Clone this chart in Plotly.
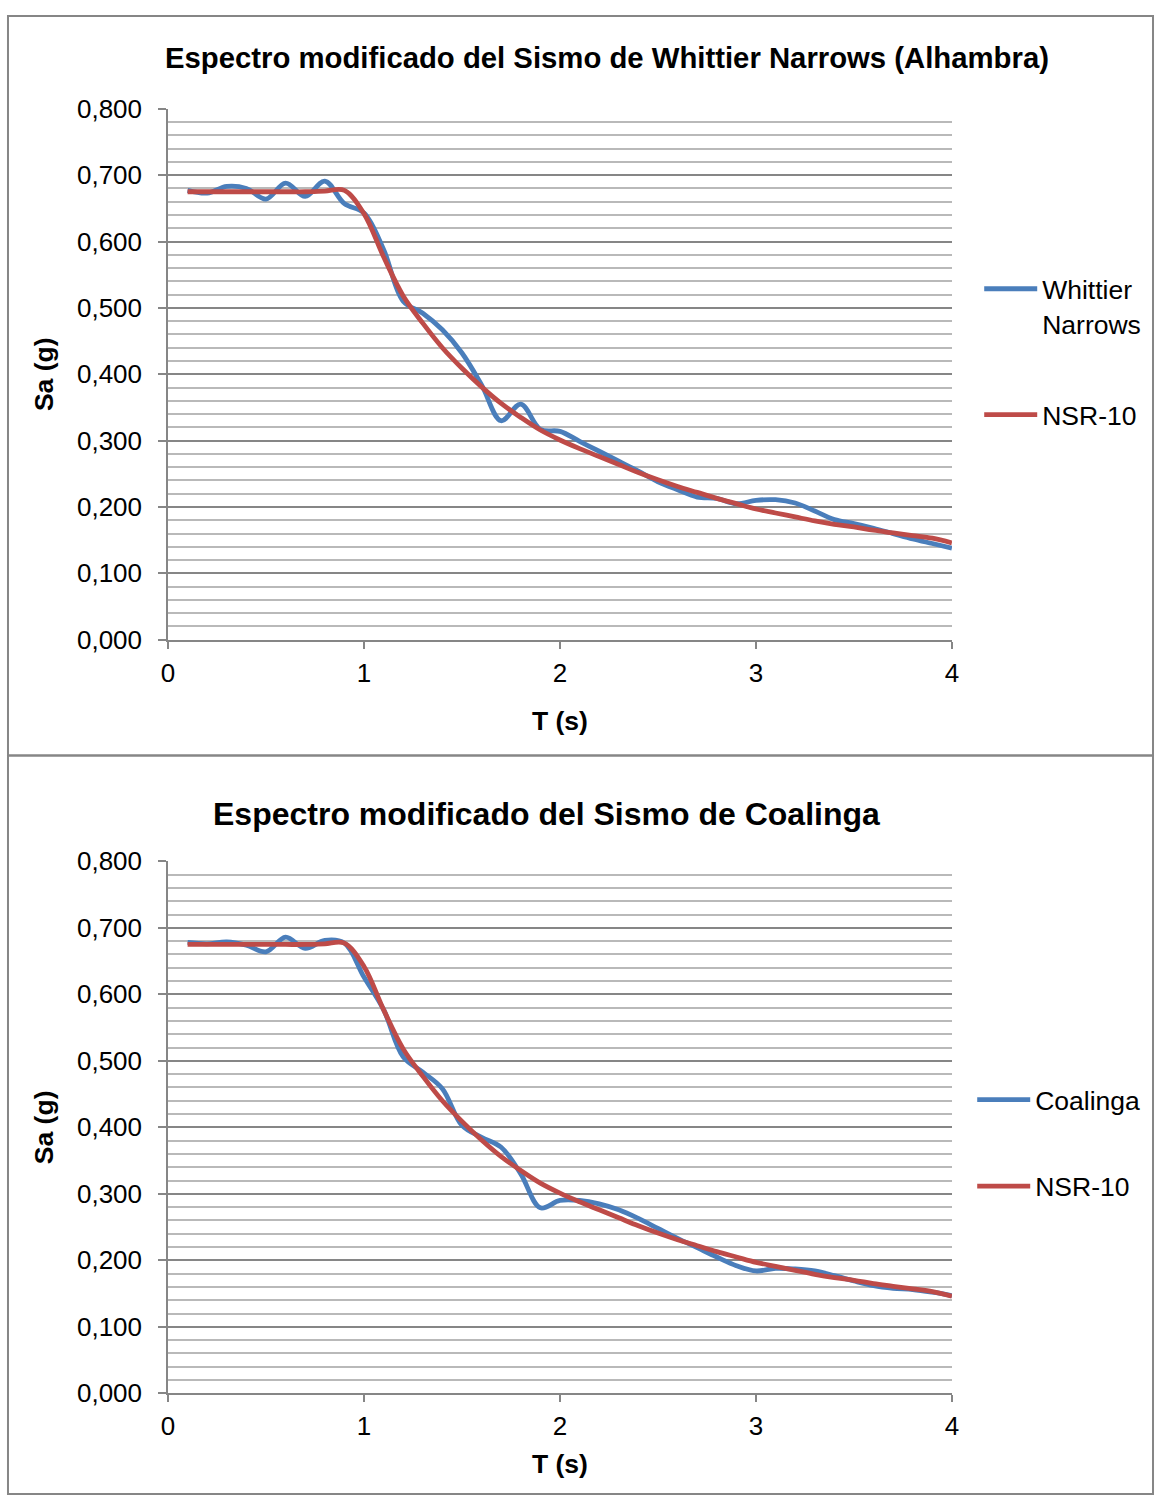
import plotly.graph_objects as go

W, H = 1161, 1510

# ---------------- data ----------------
T = [0.1, 0.2, 0.3, 0.4, 0.5, 0.6, 0.7, 0.8, 0.9, 1.0,
     1.1, 1.2, 1.3, 1.4, 1.5, 1.6, 1.7, 1.8, 1.9, 2.0,
     2.1, 2.2, 2.3, 2.4, 2.5, 2.6, 2.7, 2.8, 2.9, 3.0,
     3.1, 3.2, 3.3, 3.4, 3.5, 3.6, 3.7, 3.8, 3.9, 4.0]

whittier = [0.677, 0.673, 0.683, 0.680, 0.664, 0.688, 0.668, 0.691, 0.657, 0.643,
            0.588, 0.510, 0.492, 0.467, 0.432, 0.384, 0.330, 0.355, 0.317, 0.314,
            0.299, 0.284, 0.269, 0.254, 0.238, 0.226, 0.215, 0.213, 0.205, 0.210,
            0.211, 0.206, 0.194, 0.181, 0.175, 0.168, 0.160, 0.152, 0.145, 0.138]

coalinga = [0.678, 0.676, 0.679, 0.674, 0.664, 0.686, 0.669, 0.681, 0.677, 0.626,
            0.577, 0.506, 0.483, 0.458, 0.403, 0.385, 0.370, 0.330, 0.279, 0.290,
            0.290, 0.285, 0.276, 0.263, 0.248, 0.233, 0.219, 0.205, 0.192, 0.184,
            0.188, 0.187, 0.184, 0.177, 0.169, 0.162, 0.158, 0.156, 0.152, 0.147]

nsr10 = [0.675, 0.675, 0.675, 0.675, 0.675, 0.675, 0.675, 0.676, 0.677, 0.642,
         0.577, 0.518, 0.477, 0.440, 0.409, 0.381, 0.356, 0.335, 0.316, 0.301,
         0.288, 0.276, 0.264, 0.252, 0.241, 0.231, 0.222, 0.213, 0.205, 0.197,
         0.191, 0.185, 0.179, 0.174, 0.170, 0.165, 0.161, 0.157, 0.153, 0.146]

title_top = "Espectro modificado del Sismo de Whittier Narrows (Alhambra)"
title_bottom = "Espectro modificado del Sismo de Coalinga"
x_title = "T (s)"
y_title = "Sa (g)"
x_ticks = [0, 1, 2, 3, 4]

BLUE = "#4A7EBB"
RED = "#BE4B48"
FONT = "Liberation Sans, Arial, sans-serif"
AX = "#868686"

# mapping of target pixel positions to paper fractions (compensates page framing)
SX, OX = 0.988, 7.0
SY, OY = 0.982, 14.05


def fx(p):
    return ((p - OX) / SX) / W


def fy(p):
    return 1 - ((p - OY) / SY) / H


fig = go.Figure()
LW = 4.8
fig.add_trace(go.Scatter(x=T, y=whittier, name="Whittier<br>Narrows", mode="lines",
                         line=dict(color=BLUE, width=LW, shape="spline", smoothing=1.0),
                         xaxis="x", yaxis="y", legend="legend", legendgroup="a"))
fig.add_trace(go.Scatter(x=T, y=nsr10, name="NSR-10", mode="lines",
                         line=dict(color=RED, width=LW, shape="spline", smoothing=1.0),
                         xaxis="x", yaxis="y", legend="legend", legendgroup="b"))
fig.add_trace(go.Scatter(x=T, y=coalinga, name="Coalinga", mode="lines",
                         line=dict(color=BLUE, width=LW, shape="spline", smoothing=1.0),
                         xaxis="x2", yaxis="y2", legend="legend2", legendgroup="c"))
fig.add_trace(go.Scatter(x=T, y=nsr10, name="NSR-10", mode="lines",
                         line=dict(color=RED, width=LW, shape="spline", smoothing=1.0),
                         xaxis="x2", yaxis="y2", legend="legend2", legendgroup="d"))

xdom = [fx(168), fx(952)]
tickfont = dict(family=FONT, size=26, color="black")
titlefont = dict(family=FONT, size=26.5, color="black")


def xaxis_cfg(anchor, standoff):
    return dict(domain=xdom, anchor=anchor, range=[0, 4], tickvals=x_ticks,
                showline=True, linecolor=AX, linewidth=1.5, ticks="outside",
                ticklen=7, tickcolor=AX, tickwidth=1.5, showgrid=False, zeroline=False,
                tickfont=tickfont, ticklabelstandoff=2,
                title=dict(text="<b>%s</b>" % x_title, font=titlefont, standoff=standoff))


def yaxis_cfg(anchor, dom):
    return dict(domain=dom, anchor=anchor, range=[0, 0.8], dtick=0.1, tick0=0,
                tickformat=".3f", showline=True, linecolor=AX, linewidth=1.5,
                ticks="outside", ticklen=8, tickcolor=AX, tickwidth=1.5,
                showgrid=True, gridcolor=AX, gridwidth=1.5, zeroline=False,
                minor=dict(dtick=0.02, tick0=0, showgrid=True, gridcolor="#B9B9B9",
                           gridwidth=1.5, ticks=""),
                tickfont=tickfont, ticklabelstandoff=11,
                title=dict(text="<b>%s</b>" % y_title, font=titlefont, standoff=16))


legend_common = dict(font=dict(family=FONT, size=26.5, color="black"),
                     itemwidth=53, valign="top", bgcolor="rgba(0,0,0,0)",
                     borderwidth=0, traceorder="grouped", xanchor="left", yanchor="top")

fig.update_layout(
    width=W, height=H, margin=dict(l=0, r=0, t=0, b=0),
    paper_bgcolor="white", plot_bgcolor="white",
    separators=",.", showlegend=True,
    xaxis=xaxis_cfg("y", 25),
    yaxis=yaxis_cfg("x", [fy(640), fy(108)]),
    xaxis2=xaxis_cfg("y2", 14),
    yaxis2=yaxis_cfg("x2", [fy(1395), fy(862)]),
    legend=dict(x=fx(985) - 5.8 / W, y=fy(288) + 23.9 / H, tracegroupgap=54, **legend_common),
    legend2=dict(x=fx(978) - 5.8 / W, y=fy(1100) + 23.5 / H, tracegroupgap=49, **legend_common),
    annotations=[
        dict(text="<b>%s</b>" % title_top, x=fx(607), y=fy(57), xref="paper", yref="paper",
             showarrow=False, xanchor="center", yanchor="middle",
             font=dict(family=FONT, size=29.3, color="black")),
        dict(text="<b>%s</b>" % title_bottom, x=fx(547), y=fy(815), xref="paper", yref="paper",
             showarrow=False, xanchor="center", yanchor="middle",
             font=dict(family=FONT, size=32, color="black")),
    ],
    shapes=[
        dict(type="rect", xref="paper", yref="paper", x0=1 / W, x1=1 - 1 / W,
             y0=fy(756), y1=1 - 1 / H, line=dict(color=AX, width=2)),
        dict(type="rect", xref="paper", yref="paper", x0=1 / W, x1=1 - 1 / W,
             y0=1 / H, y1=fy(756), line=dict(color=AX, width=2)),
    ],
)

fig.write_html("out.html")
